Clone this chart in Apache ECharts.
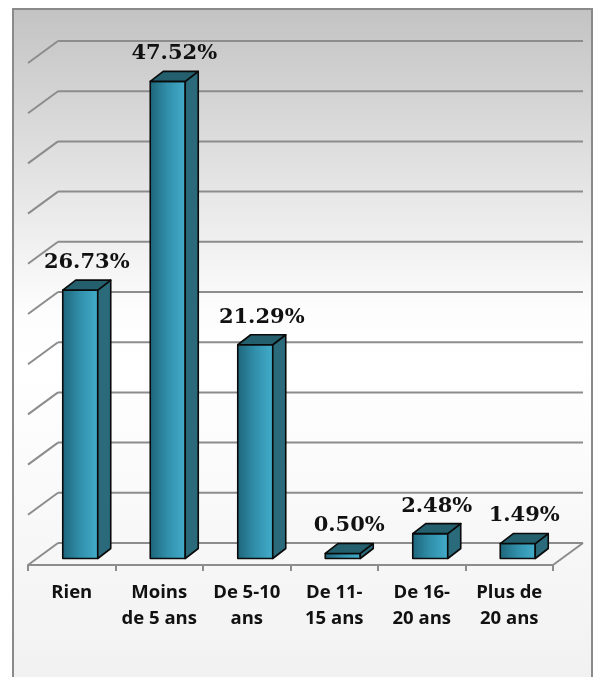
<!DOCTYPE html>
<html>
<head>
<meta charset="utf-8">
<script src="https://cdn.jsdelivr.net/npm/echarts@6/dist/echarts.min.js"></script>
<style>
html,body{margin:0;padding:0;background:#ffffff;}
#chart{width:593px;height:677px;}
</style>
</head>
<body>
<div id="chart"></div>
<script>
// ---- data ----
var categories = ['Rien', 'Moins\nde 5 ans', 'De 5-10\nans', 'De 11-\n15 ans', 'De 16-\n20 ans', 'Plus de\n20 ans'];
var values = [26.73, 47.52, 21.29, 0.50, 2.48, 1.49];
var valueLabels = ['26.73%', '47.52%', '21.29%', '0.50%', '2.48%', '1.49%'];
var tickValues = [0, 5, 10, 15, 20, 25, 30, 35, 40, 45, 50];

// ---- 3D styling offsets (pixels) ----
var WALL_DX = 30, WALL_DY = -22;     // front plane -> back wall
var BAR_DX = 13, BAR_DY = -10;       // bar depth
var FACE_DX = 8.5, FACE_DY = -6.5;   // front plane -> bar front face
var BAR_W = 35;
var GRID_COLOR = '#8c8c8c';

var chart = echarts.init(document.getElementById('chart'), null, {renderer: 'canvas'});

function renderWall(params, api) {
  var cs = params.coordSys;
  var v = api.value(0);
  var p = api.coord([0, v]);
  var y = p[1];
  var left = cs.x, right = cs.x + cs.width;
  var style = {stroke: GRID_COLOR, lineWidth: 2, fill: null};
  var children = [
    {type: 'line', shape: {x1: left + WALL_DX, y1: y + WALL_DY, x2: right + WALL_DX, y2: y + WALL_DY}, style: style},
    {type: 'line', shape: {x1: left + WALL_DX, y1: y + WALL_DY, x2: left, y2: y}, style: style}
  ];
  if (v === 0) {
    children.push({type: 'line', shape: {x1: right + WALL_DX, y1: y + WALL_DY, x2: right, y2: y}, style: style});
  }
  return {type: 'group', children: children};
}

function renderBar(params, api) {
  var idx = api.value(0);
  var v = api.value(1);
  var base = api.coord([idx, 0]);
  var top = api.coord([idx, v]);
  var x1 = base[0] + FACE_DX - BAR_W / 2;
  var x2 = x1 + BAR_W;
  var yb = base[1] + FACE_DY;
  var yt = top[1] + FACE_DY;
  var stroke = {stroke: '#0a0a0a', lineWidth: 1.6, lineJoin: 'round'};
  var front = {
    type: 'polygon',
    shape: {points: [[x1, yt], [x2, yt], [x2, yb], [x1, yb]]},
    style: Object.assign({
      fill: new echarts.graphic.LinearGradient(0, 0, 1, 0, [
        {offset: 0, color: '#1d6479'},
        {offset: 0.5, color: '#3190ab'},
        {offset: 1, color: '#43adcb'}
      ])
    }, stroke)
  };
  var side = {
    type: 'polygon',
    shape: {points: [[x2, yt], [x2 + BAR_DX, yt + BAR_DY], [x2 + BAR_DX, yb + BAR_DY], [x2, yb]]},
    style: Object.assign({fill: '#2a6a7a'}, stroke)
  };
  var topFace = {
    type: 'polygon',
    shape: {points: [[x1, yt], [x1 + BAR_DX, yt + BAR_DY], [x2 + BAR_DX, yt + BAR_DY], [x2, yt]]},
    style: Object.assign({fill: '#245f6e'}, stroke)
  };
  var label = {
    type: 'text',
    style: {
      text: valueLabels[idx],
      x: (x1 + x2 + BAR_DX) / 2,
      y: yt + BAR_DY - 7,
      align: 'center',
      verticalAlign: 'bottom',
      font: 'bold 21px "DejaVu Serif"',
      fill: '#111111'
    }
  };
  return {type: 'group', children: [front, side, topFace, label]};
}

var option = {
  animation: false,
  backgroundColor: '#ffffff',
  graphic: [{
    type: 'rect',
    z: -10,
    shape: {x: 13, y: 9, width: 579, height: 720},
    style: {
      fill: new echarts.graphic.LinearGradient(0, 0, 0, 1, [
        {offset: 0, color: '#c3c3c3'},
        {offset: 0.42, color: '#fdfdfd'},
        {offset: 0.5, color: '#ffffff'},
        {offset: 1, color: '#efefef'}
      ]),
      stroke: '#8a8a8a',
      lineWidth: 2
    }
  }],
  grid: {left: 28, right: 40, top: 63, bottom: 112, containLabel: false},
  xAxis: {
    type: 'category',
    data: categories,
    boundaryGap: true,
    axisLine: {show: true, lineStyle: {color: GRID_COLOR, width: 2}},
    axisTick: {show: true, length: 6, alignWithLabel: false, lineStyle: {color: GRID_COLOR, width: 2}},
    axisLabel: {
      interval: 0,
      margin: 15,
      fontFamily: 'Open Sans',
      fontWeight: 'bold',
      fontSize: 18.5,
      lineHeight: 26,
      color: '#111111',
      verticalAlign: 'top'
    },
    splitLine: {show: false}
  },
  yAxis: {
    type: 'value',
    min: 0,
    max: 50,
    interval: 5,
    show: true,
    axisLine: {show: false},
    axisTick: {show: false},
    axisLabel: {show: false},
    splitLine: {show: false}
  },
  series: [
    {
      type: 'custom',
      z: 1,
      renderItem: renderWall,
      data: tickValues.map(function (t) { return [t]; }),
      encode: {y: 0},
      silent: true
    },
    {
      type: 'custom',
      z: 3,
      renderItem: renderBar,
      data: values.map(function (v, i) { return [i, v]; }),
      encode: {x: 0, y: 1}
    }
  ]
};
chart.setOption(option);
</script>
</body>
</html>
